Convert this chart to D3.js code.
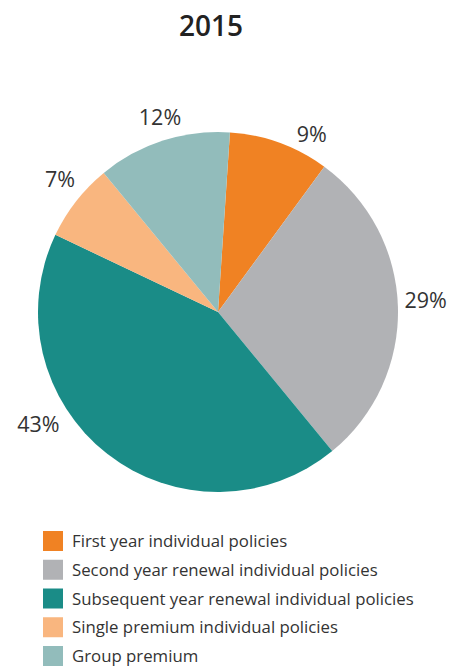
<!DOCTYPE html>
<html>
<head>
<meta charset="utf-8">
<script src="https://cdn.jsdelivr.net/npm/d3@7"></script>
<style>
  html, body { margin: 0; padding: 0; background: #fff; }
  svg { display: block; font-family: "Open Sans", "Noto Sans", sans-serif; }
</style>
</head>
<body>
<svg id="chart" width="451" height="669"></svg>
<script>
// Premium mix for 2015
const title = "2015";
const categories = [
  "First year individual policies",
  "Second year renewal individual policies",
  "Subsequent year renewal individual policies",
  "Single premium individual policies",
  "Group premium"
];
const shares = [9, 29, 43, 7, 12];
const colors = ["#F08223", "#B1B2B5", "#1A8C87", "#F9B67F", "#92BCBB"];

const svg = d3.select("#chart");
const cx = 218, cy = 312, r = 180;

svg.append("text")
  .attr("x", 211).attr("y", 36)
  .attr("text-anchor", "middle")
  .attr("font-size", 28).attr("font-weight", 600)
  .attr("fill", "#222")
  .text(title);

const data = categories.map((c, i) => ({ name: c, value: shares[i], color: colors[i] }));

const startDeg = 3.8;
const pie = d3.pie().value(d => d.value).sort(null)
  .startAngle(startDeg * Math.PI / 180)
  .endAngle((startDeg + 360) * Math.PI / 180);
const arcs = pie(data);

const arc = d3.arc().innerRadius(0).outerRadius(r);
const g = svg.append("g").attr("transform", `translate(${cx},${cy})`);

g.selectAll("path").data(arcs).join("path")
  .attr("d", arc)
  .attr("fill", d => d.data.color);

// label placement: radius and angular nudge (degrees) per slice
const labelLayout = [
  { rad: 201, nudge: 7.8 },
  { rad: 208, nudge: -1.7 },
  { rad: 212, nudge: 19.9 },
  { rad: 206, nudge: 1.9 },
  { rad: 203, nudge: 1.2 }
];
const labelAngle = (d, i) => (d.startAngle + d.endAngle) / 2 + labelLayout[i].nudge * Math.PI / 180;
g.selectAll("text.pct").data(arcs).join("text")
  .attr("class", "pct")
  .attr("x", (d, i) => labelLayout[i].rad * Math.sin(labelAngle(d, i)))
  .attr("y", (d, i) => -labelLayout[i].rad * Math.cos(labelAngle(d, i)))
  .attr("dy", "0.35em")
  .attr("text-anchor", "middle")
  .attr("font-size", 21.5)
  .attr("fill", "#333")
  .text(d => d.data.value + "%");

// legend
const legendY = d3.scalePoint().domain(categories).range([531, 646]);
const leg = svg.append("g");
const rows = leg.selectAll("g").data(data).join("g")
  .attr("transform", d => `translate(43,${legendY(d.name)})`);
rows.append("rect").attr("width", 20).attr("height", 20).attr("fill", d => d.color);
rows.append("text")
  .attr("x", 29).attr("y", 16)
  .attr("font-size", 16.8)
  .attr("fill", "#333")
  .text(d => d.name);
</script>
</body>
</html>
